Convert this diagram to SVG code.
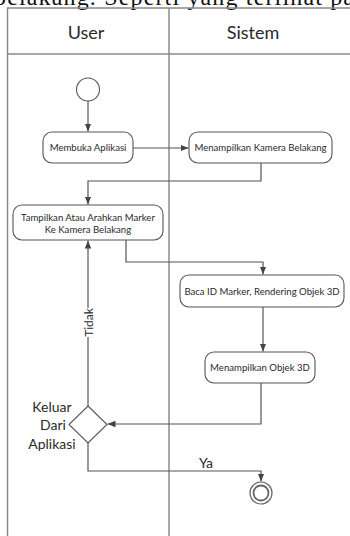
<svg xmlns="http://www.w3.org/2000/svg" width="350" height="536" viewBox="0 0 350 536">
<style>
.frame{fill:none;stroke:#8a8a8a;stroke-width:1.5}
.node{fill:#fff;stroke:#555;stroke-width:1.1}
.lbl{font-family:Lato,"Liberation Sans",sans-serif;fill:#2a2a2a;text-anchor:middle;dominant-baseline:central}
.n{font-size:9.6px}
.hd{font-size:18px}
.big{font-size:14px}
.edge{fill:none;stroke:#555;stroke-width:1.2}
</style>
<defs>
<marker id="ah" viewBox="0 0 10 10" refX="10" refY="5" markerWidth="8" markerHeight="8" markerUnits="userSpaceOnUse" orient="auto">
<path d="M0,1 L10,5 L0,9 Z" fill="#444"/>
</marker>
</defs>
<rect width="350" height="536" fill="#fff"/>
<text x="-6" y="4.5" font-family="Liberation Serif,serif" font-size="24" fill="#111" textLength="360" lengthAdjust="spacing">belakang. Seperti yang terlihat pa</text>
<g id="lanes">
<path class="frame" d="M7.5,536 V8 H352 M7.5,54 H352 M169,8 V536"/>
<text class="lbl hd" x="86" y="32">User</text>
<text class="lbl hd" x="253" y="32">Sistem</text>
</g>
<g id="connectors">
<path class="edge" d="M88,101 V131.5" marker-end="url(#ah)"/>
<path class="edge" d="M133,148 H188.5" marker-end="url(#ah)"/>
<path class="edge" d="M261,163 V181 H88 V204.5" marker-end="url(#ah)"/>
<path class="edge" d="M126,240 V262 H263 V274.5" marker-end="url(#ah)"/>
<path class="edge" d="M263,307 V351.5" marker-end="url(#ah)"/>
<path class="edge" d="M261,383 V424 H107.5" marker-end="url(#ah)"/>
<path class="edge" d="M88,406 V240.5" marker-end="url(#ah)"/>
<path class="edge" d="M88,443 V471 H261 V481.5" marker-end="url(#ah)"/>
<rect x="82" y="308" width="12" height="29" fill="#fff"/>
<text class="lbl" x="88" y="322.5" font-size="12" transform="rotate(-90 88 322.5)">Tidak</text>
<text class="lbl big" x="206" y="462">Ya</text>
</g>
<g id="start">
<circle cx="88" cy="89.5" r="11.5" fill="#fff" stroke="#555" stroke-width="1.1"/>
</g>
<g id="membuka">
<rect class="node" x="43" y="132" width="90" height="31" rx="9"/>
<text class="lbl n" x="88" y="147.5">Membuka Aplikasi</text>
</g>
<g id="kamera">
<rect class="node" x="189" y="132" width="143" height="31" rx="9"/>
<text class="lbl n" x="260.5" y="147.5">Menampilkan Kamera Belakang</text>
</g>
<g id="marker">
<rect class="node" x="13" y="205" width="150" height="35" rx="9"/>
<text class="lbl n" x="88" y="217">Tampilkan Atau Arahkan Marker</text>
<text class="lbl n" x="88" y="229">Ke Kamera Belakang</text>
</g>
<g id="baca">
<rect class="node" x="180" y="275" width="164" height="32" rx="9"/>
<text class="lbl n" x="262" y="291">Baca ID Marker, Rendering Objek 3D</text>
</g>
<g id="objek">
<rect class="node" x="205" y="352" width="110" height="31" rx="9"/>
<text class="lbl n" x="260" y="367">Menampilkan Objek 3D</text>
</g>
<g id="decision">
<path class="node" d="M88,406 L107,424.5 L88,443 L69,424.5 Z"/>
<text class="lbl big" x="52" y="406">Keluar</text>
<text class="lbl big" x="53" y="424.5">Dari</text>
<text class="lbl big" x="52" y="443">Aplikasi</text>
</g>
<g id="end">
<circle cx="261" cy="493" r="11" fill="#fff" stroke="#666" stroke-width="1.2"/>
<circle cx="261" cy="493" r="7.5" fill="#fff" stroke="#666" stroke-width="1.8"/>
</g>
</svg>
